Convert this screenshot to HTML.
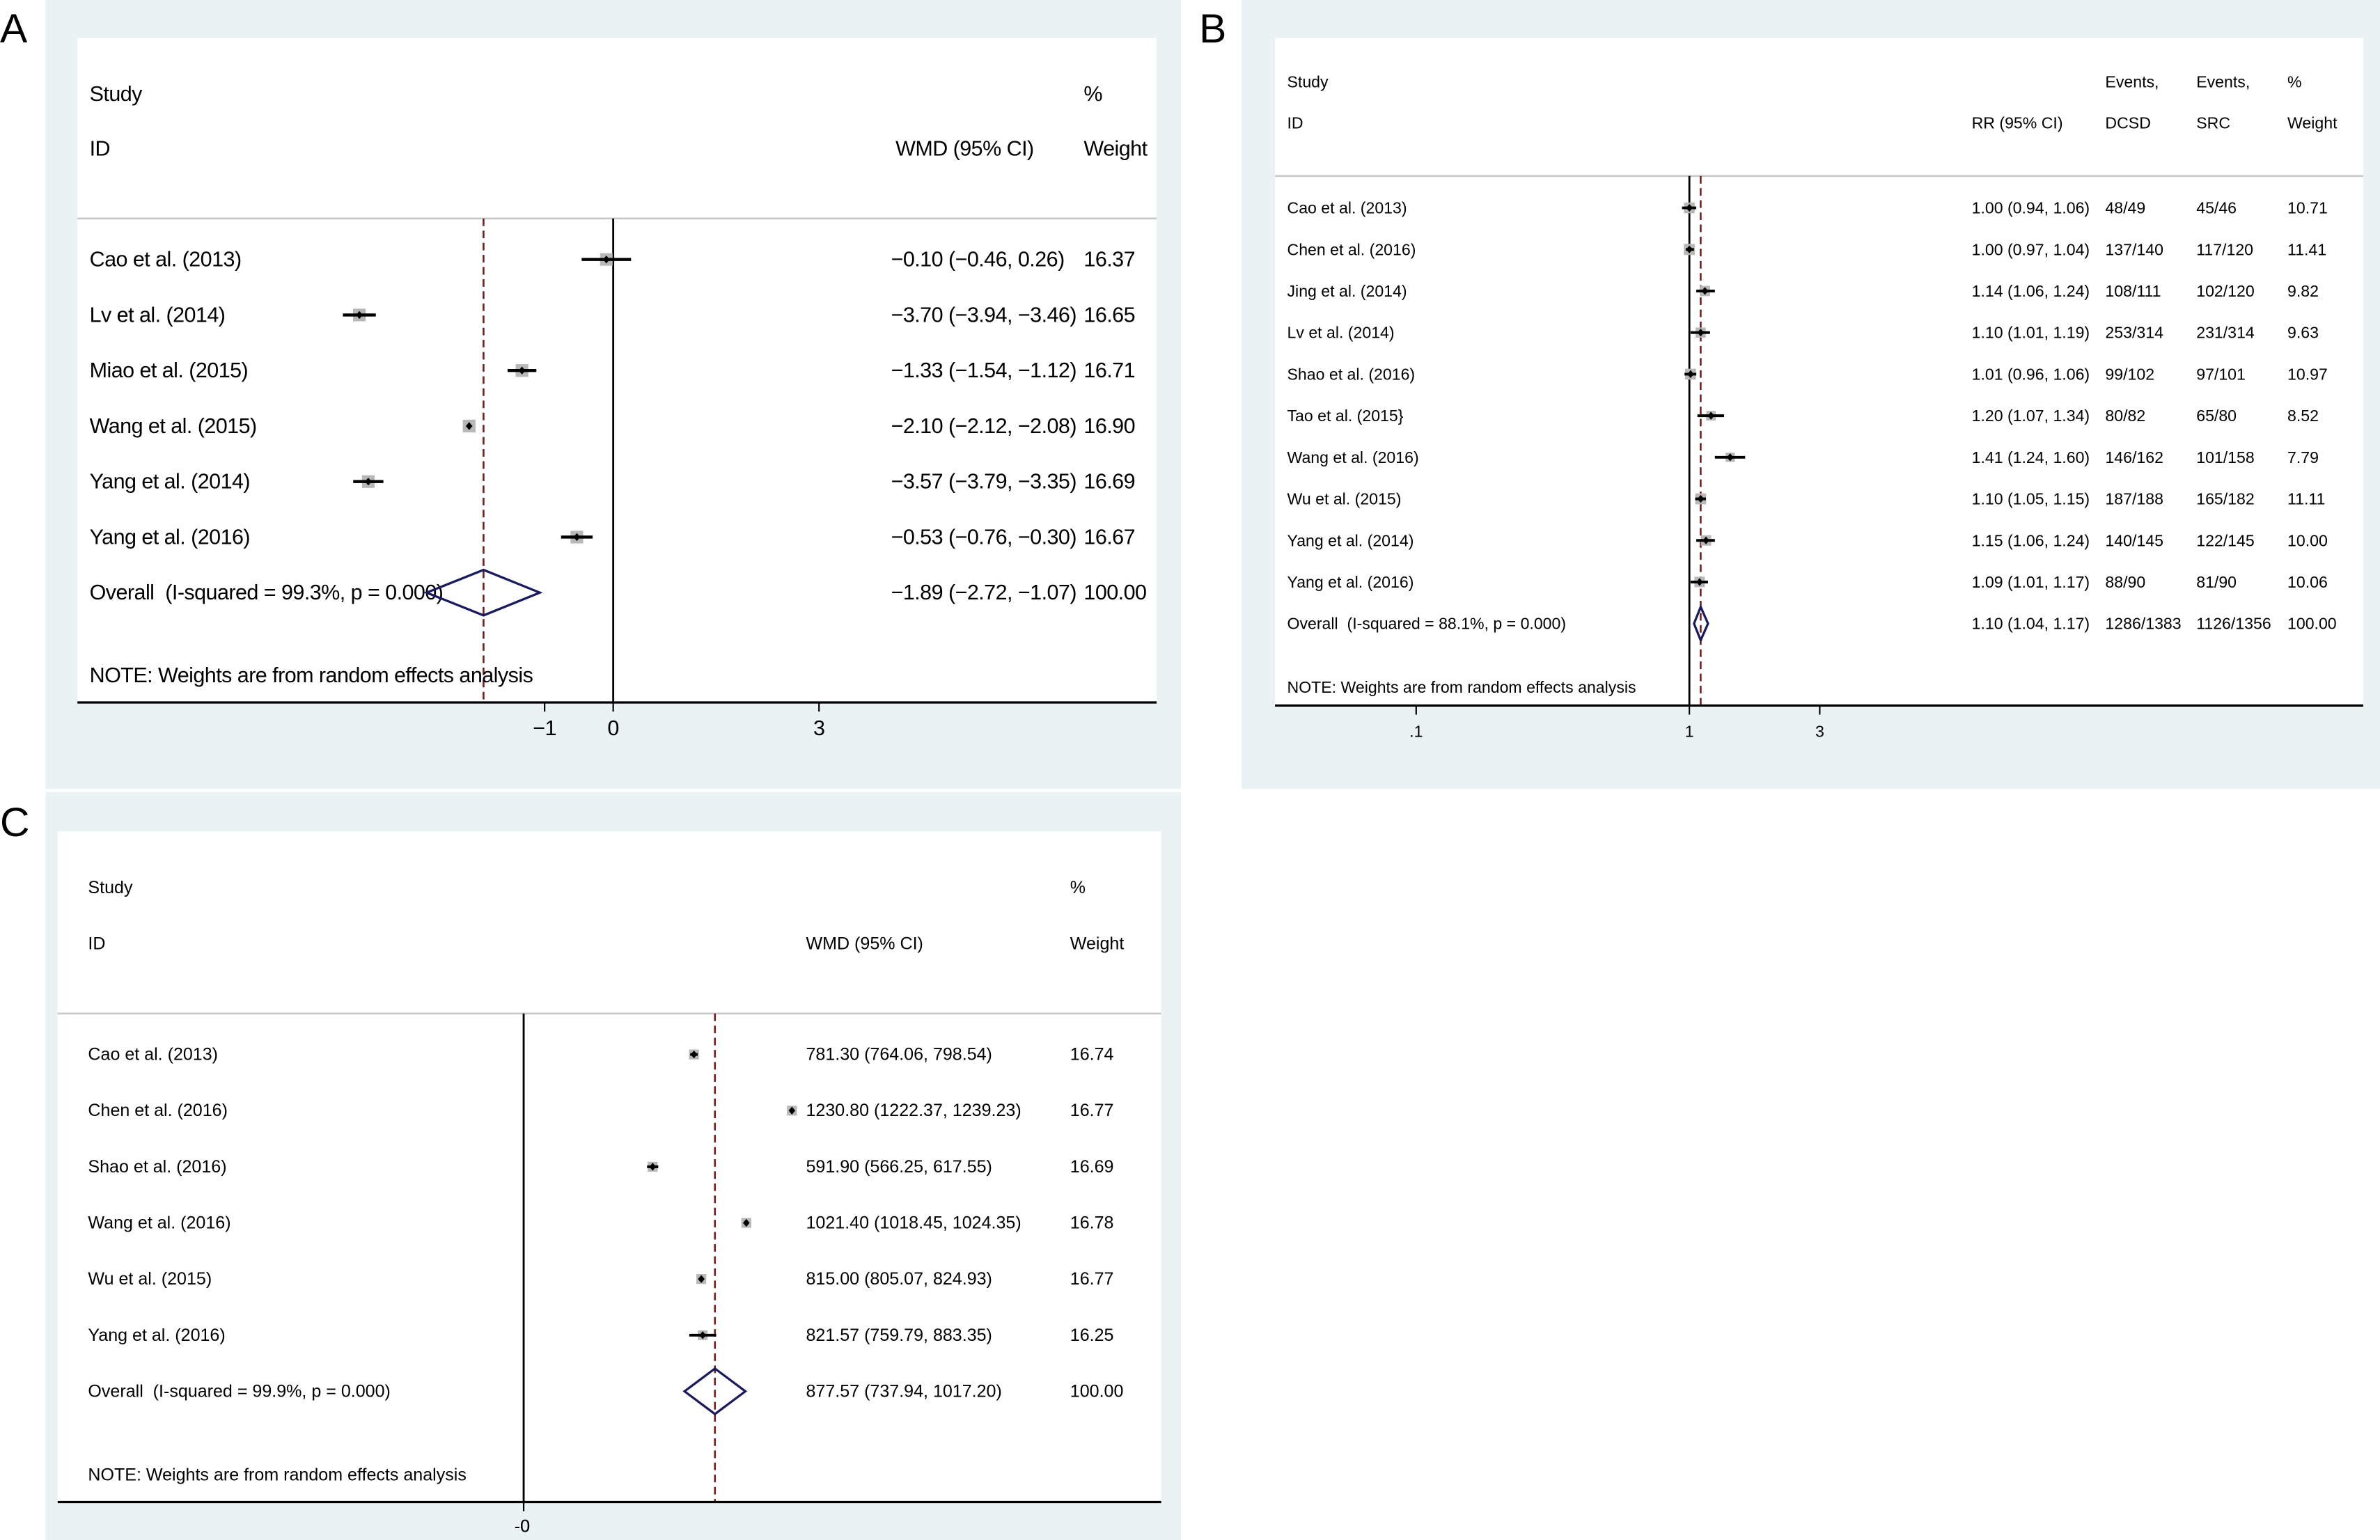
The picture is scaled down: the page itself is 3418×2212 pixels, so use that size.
<!DOCTYPE html>
<html><head><meta charset="utf-8">
<style>
html,body{margin:0;padding:0;background:#fff;}
svg{display:block;}
text{font-family:"Liberation Sans",sans-serif;fill:#000;white-space:pre;}
.pa text{letter-spacing:-0.25px;}
</style></head>
<body>
<svg id="fig" width="3418" height="2212" viewBox="0 0 1568 1015" preserveAspectRatio="none" xmlns="http://www.w3.org/2000/svg">
<rect x="0" y="0" width="1568" height="1015" fill="#ffffff"/>
<rect x="30" y="0" width="748" height="520" fill="#eaf2f3"/>
<rect x="818" y="0" width="750" height="520" fill="#eaf2f3"/>
<rect x="30" y="522" width="748" height="493" fill="#eaf2f3"/>
<rect x="51" y="25" width="711" height="438" fill="#fff"/>
<rect x="840" y="25" width="717" height="440" fill="#fff"/>
<rect x="38" y="548" width="727" height="442" fill="#fff"/>
<text x="0" y="28" font-size="27">A</text>
<text x="790" y="28" font-size="27">B</text>
<text x="0" y="551" font-size="27">C</text>
<g id="layer"></g>
</svg>
<script>
// ---------- Panel A data ----------
const aStudies = ["Cao et al. (2013)","Lv et al. (2014)","Miao et al. (2015)","Wang et al. (2015)","Yang et al. (2014)","Yang et al. (2016)"];
const aEst = [-0.10,-3.70,-1.33,-2.10,-3.57,-0.53];
const aLo = [-0.46,-3.94,-1.54,-2.12,-3.79,-0.76];
const aHi = [0.26,-3.46,-1.12,-2.08,-3.35,-0.30];
const aWeight = [16.37,16.65,16.71,16.90,16.69,16.67];
const aOverall = [-1.89,-2.72,-1.07];
const aOverallLabel = "Overall  (I-squared = 99.3%, p = 0.000)";
const aTicks = [-1,0,3];
const aTickLabels = ["\u22121","0","3"];

// ---------- Panel B data ----------
const bStudies = ["Cao et al. (2013)","Chen et al. (2016)","Jing et al. (2014)","Lv et al. (2014)","Shao et al. (2016)","Tao et al. (2015}","Wang et al. (2016)","Wu et al. (2015)","Yang et al. (2014)","Yang et al. (2016)"];
const bEst = [1.00,1.00,1.14,1.10,1.01,1.20,1.41,1.10,1.15,1.09];
const bLo = [0.94,0.97,1.06,1.01,0.96,1.07,1.24,1.05,1.06,1.01];
const bHi = [1.06,1.04,1.24,1.19,1.06,1.34,1.60,1.15,1.24,1.17];
const bDCSD = ["48/49","137/140","108/111","253/314","99/102","80/82","146/162","187/188","140/145","88/90"];
const bSRC = ["45/46","117/120","102/120","231/314","97/101","65/80","101/158","165/182","122/145","81/90"];
const bWeight = [10.71,11.41,9.82,9.63,10.97,8.52,7.79,11.11,10.00,10.06];
const bOverall = [1.10,1.04,1.17];
const bOverallEvents = ["1286/1383","1126/1356"];
const bOverallLabel = "Overall  (I-squared = 88.1%, p = 0.000)";
const bTicks = [0.1,1,3];
const bTickLabels = [".1","1","3"];

// ---------- Panel C data ----------
const cStudies = ["Cao et al. (2013)","Chen et al. (2016)","Shao et al. (2016)","Wang et al. (2016)","Wu et al. (2015)","Yang et al. (2016)"];
const cEst = [781.30,1230.80,591.90,1021.40,815.00,821.57];
const cLo = [764.06,1222.37,566.25,1018.45,805.07,759.79];
const cHi = [798.54,1239.23,617.55,1024.35,824.93,883.35];
const cWeight = [16.74,16.77,16.69,16.78,16.77,16.25];
const cOverall = [877.57,737.94,1017.20];
const cOverallLabel = "Overall  (I-squared = 99.9%, p = 0.000)";

const NS = "http://www.w3.org/2000/svg";
const layer = document.getElementById('layer');
let cur = layer;
function mk(tag, attrs, parent){
  const e = document.createElementNS(NS, tag);
  for (const k in attrs) e.setAttribute(k, attrs[k]);
  (parent||cur).appendChild(e);
  return e;
}
function txt(x,y,s,fs,name,anchor){
  const t = mk('text',{x:x,y:y,'font-size':fs,'dominant-baseline':'central','text-anchor':anchor||'start'});
  t.textContent = s;
  
  
  return t;
}
function fmt(v,d){ const s = Math.abs(v).toFixed(d); return (v<0?"\u2212":"")+s; }
const DASH = {stroke:'#7a1c1c','stroke-width':1.2,'stroke-dasharray':'5,3'};

function drawMarker(g, x, xl, xh, y, sq, lw){
  const r = mk('rect',{x:x-sq/2,y:y-sq/2,width:sq,height:sq,fill:'#b8b8b8'},g);
  
  
  const l = mk('line',{x1:xl,x2:xh,y1:y,y2:y,stroke:'#000','stroke-width':lw},g);
  
  
  const d = mk('path',{d:`M${x-2.2},${y} L${x},${y-2.6} L${x+2.2},${y} L${x},${y+2.6} Z`,fill:'#000'},g);
  
  
}
function drawDiamond(g, xl, xc, xh, y, h){
  const p = mk('path',{d:`M${xl},${y} L${xc},${y-h} L${xh},${y} L${xc},${y+h} Z`,fill:'none',stroke:'#1a1a5e','stroke-width':1.5},g);
  
  
}
function dashLine(g,x,y1,y2){
  const e = mk('line',Object.assign({x1:x,x2:x,y1:y1,y2:y2},DASH),g);
   
}

// ================= Panel A =================
(function(){
  const g = mk('g',{class:'pa'}, layer);
  
  
  cur = g;
  const X = v => 404 + 45.2*v;
  const fs = 14;
  const rowY0 = 171, rowStep = 36.6;
  txt(59,62,"Study",fs,'study-header');
  txt(714,62,"%",fs,'percent-header');
  txt(59,98,"ID",fs,'id-header');
  txt(590,98,"WMD (95% CI)",fs,'wmd-header');
  txt(714,98,"Weight",fs,'weight-header');
  let e = mk('line',{x1:51,x2:762,y1:144,y2:144,stroke:'#c8c8c8','stroke-width':1.2},g);
   
  e = mk('line',{x1:X(0),x2:X(0),y1:144,y2:463,stroke:'#000','stroke-width':1.3},g);
   
  dashLine(g, X(aOverall[0]), 144, 463);
  aStudies.forEach((s,i)=>{
    const y = rowY0 + i*rowStep;
    txt(59,y,s,fs,'study-label');
    drawMarker(g, X(aEst[i]), X(aLo[i]), X(aHi[i]), y, 8.3*Math.sqrt(aWeight[i]/16.5), 2);
    txt(587,y,`${fmt(aEst[i],2)} (${fmt(aLo[i],2)}, ${fmt(aHi[i],2)})`,fs,'ci-text');
    txt(714,y,aWeight[i].toFixed(2),fs,'weight-text');
  });
  const oy = rowY0 + aStudies.length*rowStep;
  txt(59,oy,aOverallLabel,fs,'overall-label');
  drawDiamond(g, X(aOverall[1]), X(aOverall[0]), X(aOverall[2]), oy, 15);
  txt(587,oy,`${fmt(aOverall[0],2)} (${fmt(aOverall[1],2)}, ${fmt(aOverall[2],2)})`,fs,'overall-ci-text');
  txt(714,oy,"100.00",fs,'overall-weight-text');
  txt(59,445,"NOTE: Weights are from random effects analysis",fs,'weights-note');
  e = mk('line',{x1:51,x2:762,y1:463,y2:463,stroke:'#000','stroke-width':1.5},g);
   
  aTicks.forEach((t,i)=>{
    const tk = mk('line',{x1:X(t),x2:X(t),y1:463,y2:469,stroke:'#000','stroke-width':1},g);
     
    txt(X(t),480,aTickLabels[i],fs,'x-tick-label','middle');
  });
})();

// ================= Panel B =================
(function(){
  const g = mk('g',{}, layer);
  
  
  cur = g;
  const X = v => 1113 + 180*Math.log10(v);
  const fs = 10.6;
  const rowY0 = 137, rowStep = 27.4;
  txt(848,54,"Study",fs,'study-header');
  txt(1387,54,"Events,",fs,'events-dcsd-header');
  txt(1447,54,"Events,",fs,'events-src-header');
  txt(1507,54,"%",fs,'percent-header');
  txt(848,81,"ID",fs,'id-header');
  txt(1299,81,"RR (95% CI)",fs,'rr-header');
  txt(1387,81,"DCSD",fs,'dcsd-header');
  txt(1447,81,"SRC",fs,'src-header');
  txt(1507,81,"Weight",fs,'weight-header');
  let e = mk('line',{x1:840,x2:1557,y1:116,y2:116,stroke:'#c8c8c8','stroke-width':1.2},g);
   
  e = mk('line',{x1:X(1),x2:X(1),y1:116,y2:465,stroke:'#000','stroke-width':1.3},g);
   
  dashLine(g, X(bOverall[0]), 116, 465);
  bStudies.forEach((s,i)=>{
    const y = rowY0 + i*rowStep;
    txt(848,y,s,fs,'study-label');
    drawMarker(g, X(bEst[i]), X(bLo[i]), X(bHi[i]), y, 7*Math.sqrt(bWeight[i]/10.5), 1.8);
    txt(1299,y,`${bEst[i].toFixed(2)} (${bLo[i].toFixed(2)}, ${bHi[i].toFixed(2)})`,fs,'ci-text');
    txt(1387,y,bDCSD[i],fs,'dcsd-events');
    txt(1447,y,bSRC[i],fs,'src-events');
    txt(1507,y,bWeight[i].toFixed(2),fs,'weight-text');
  });
  const oy = rowY0 + bStudies.length*rowStep;
  txt(848,oy,bOverallLabel,fs,'overall-label');
  drawDiamond(g, X(bOverall[1]), X(bOverall[0]), X(bOverall[2]), oy, 11);
  txt(1299,oy,`${bOverall[0].toFixed(2)} (${bOverall[1].toFixed(2)}, ${bOverall[2].toFixed(2)})`,fs,'overall-ci-text');
  txt(1387,oy,bOverallEvents[0],fs,'overall-dcsd-events');
  txt(1447,oy,bOverallEvents[1],fs,'overall-src-events');
  txt(1507,oy,"100.00",fs,'overall-weight-text');
  txt(848,453,"NOTE: Weights are from random effects analysis",fs,'weights-note');
  e = mk('line',{x1:840,x2:1557,y1:465,y2:465,stroke:'#000','stroke-width':1.5},g);
   
  bTicks.forEach((t,i)=>{
    const tk = mk('line',{x1:X(t),x2:X(t),y1:465,y2:471,stroke:'#000','stroke-width':1},g);
     
    txt(X(t),482,bTickLabels[i],fs,'x-tick-label','middle');
  });
})();

// ================= Panel C =================
(function(){
  const g = mk('g',{}, layer);
  
  
  cur = g;
  const X = v => 345 + 0.1436*v;
  const fs = 11.5;
  const rowY0 = 695, rowStep = 37;
  txt(58,585,"Study",fs,'study-header');
  txt(705,585,"%",fs,'percent-header');
  txt(58,622,"ID",fs,'id-header');
  txt(531,622,"WMD (95% CI)",fs,'wmd-header');
  txt(705,622,"Weight",fs,'weight-header');
  let e = mk('line',{x1:38,x2:765,y1:668,y2:668,stroke:'#c8c8c8','stroke-width':1.2},g);
   
  e = mk('line',{x1:X(0),x2:X(0),y1:668,y2:990,stroke:'#000','stroke-width':1.3},g);
   
  dashLine(g, X(cOverall[0]), 668, 990);
  cStudies.forEach((s,i)=>{
    const y = rowY0 + i*rowStep;
    txt(58,y,s,fs,'study-label');
    drawMarker(g, X(cEst[i]), X(cLo[i]), X(cHi[i]), y, 6.5*Math.sqrt(cWeight[i]/16.7), 1.8);
    txt(531,y,`${cEst[i].toFixed(2)} (${cLo[i].toFixed(2)}, ${cHi[i].toFixed(2)})`,fs,'ci-text');
    txt(705,y,cWeight[i].toFixed(2),fs,'weight-text');
  });
  const oy = rowY0 + cStudies.length*rowStep;
  txt(58,oy,cOverallLabel,fs,'overall-label');
  drawDiamond(g, X(cOverall[1]), X(cOverall[0]), X(cOverall[2]), oy, 15);
  txt(531,oy,`${cOverall[0].toFixed(2)} (${cOverall[1].toFixed(2)}, ${cOverall[2].toFixed(2)})`,fs,'overall-ci-text');
  txt(705,oy,"100.00",fs,'overall-weight-text');
  txt(58,972,"NOTE: Weights are from random effects analysis",fs,'weights-note');
  e = mk('line',{x1:38,x2:765,y1:990,y2:990,stroke:'#000','stroke-width':1.5},g);
   
  const tk = mk('line',{x1:X(0),x2:X(0),y1:990,y2:996,stroke:'#000','stroke-width':1},g);
   
  txt(X(0)-1,1006,"-0",fs,'x-tick-label','middle');
  txt(X(0)+1,1006,"0",fs,'x-tick-label','middle');
})();
</script>
</body></html>
